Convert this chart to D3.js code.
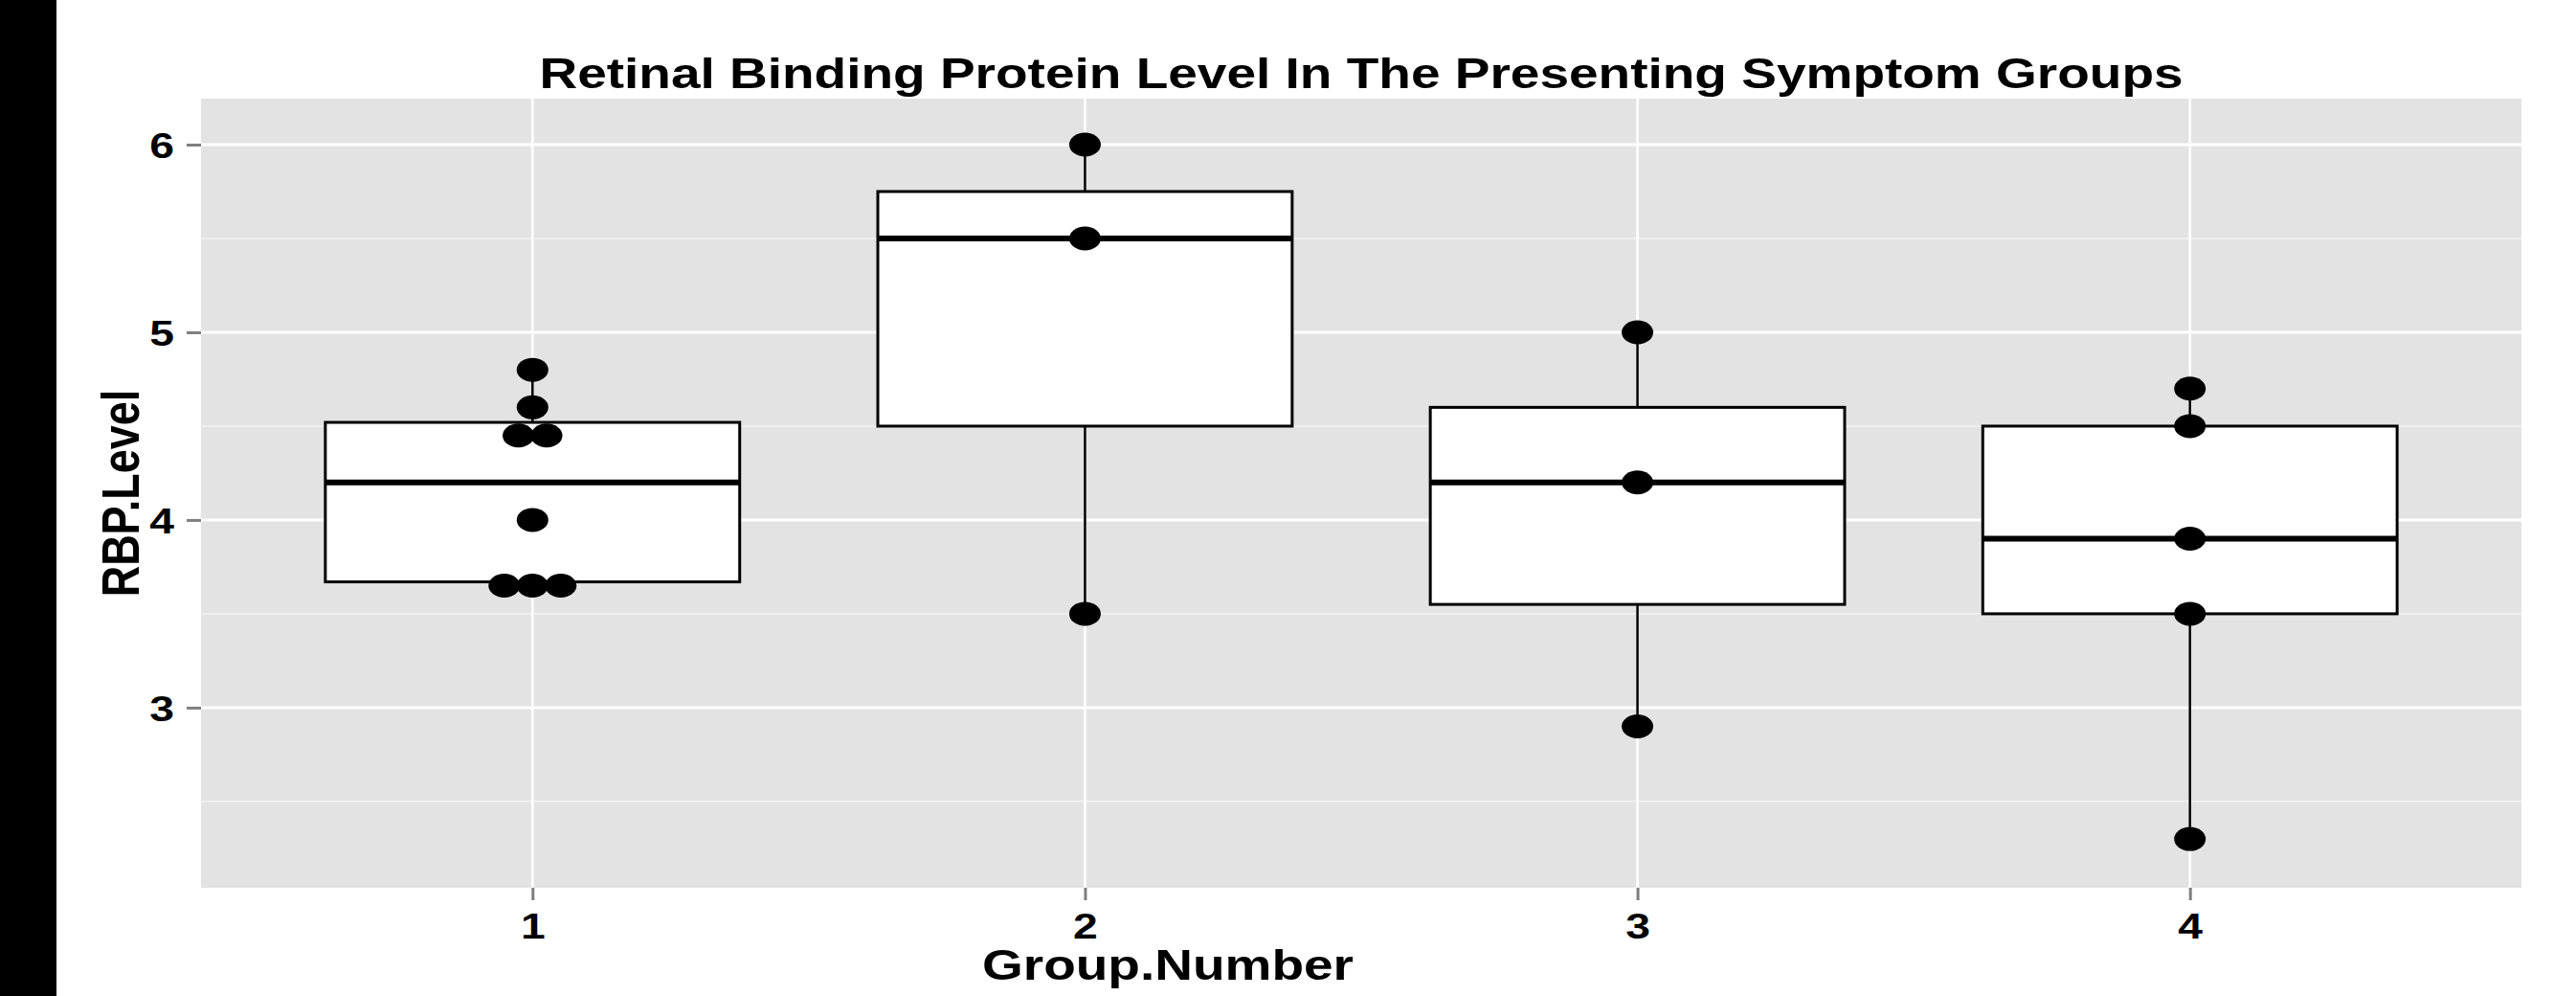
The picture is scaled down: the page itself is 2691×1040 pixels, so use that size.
<!DOCTYPE html>
<html>
<head>
<meta charset="utf-8">
<script src="https://cdn.jsdelivr.net/npm/d3@7"></script>
<style>
body { margin: 0; background: #fff; }
text { font-family: "Liberation Sans", Arial, sans-serif; font-weight: bold; fill: #000; }
</style>
</head>
<body>
<svg width="2691" height="1040"></svg>
<script>
// group labels and RBP values
var groups = ["1", "2", "3", "4"];
var rbpPoints = [
  [4.8, 4.6, 4.45, 4.45, 4.0, 3.65, 3.65, 3.65],
  [6.0, 5.5, 3.5],
  [5.0, 4.2, 2.9],
  [4.7, 4.5, 3.9, 3.5, 2.3]
];
var boxLow = [3.65, 3.5, 2.9, 2.3];
var boxQ1 = [3.67, 4.5, 3.55, 3.5];
var boxMedian = [4.2, 5.5, 4.2, 3.9];
var boxQ3 = [4.52, 5.75, 4.6, 4.5];
var boxHigh = [4.8, 6.0, 5.0, 4.7];
var yTicks = [3, 4, 5, 6];
var yMinor = [2.5, 3.5, 4.5, 5.5];

var svg = d3.select("svg");
var stretch = 1.25; // the source picture is wider than it is tall

// panel edges (note: "top" is a reserved window property)
var pLeft = 210, pRight = 2634, pTop = 103, pBottom = 927;

// black strip at the left edge of the source image
svg.append("rect").attr("x", 0).attr("y", 0).attr("width", 59).attr("height", 1040).attr("fill", "#000");

var x = d3.scalePoint().domain(groups).range([pLeft, pRight]).padding(0.6);
var y = d3.scaleLinear().domain([2.04, 6.245]).range([pBottom, pTop]);
var boxW = x.step() * 0.75;

svg.append("rect")
  .attr("x", pLeft).attr("y", pTop)
  .attr("width", pRight - pLeft).attr("height", pBottom - pTop)
  .attr("fill", "#e3e3e3");

var grid = svg.append("g");
grid.selectAll(".minor").data(yMinor).enter().append("line")
  .attr("x1", pLeft).attr("x2", pRight)
  .attr("y1", d => y(d)).attr("y2", d => y(d))
  .attr("stroke", "#f2f2f2").attr("stroke-width", 1.5);
grid.selectAll(".major").data(yTicks).enter().append("line")
  .attr("x1", pLeft).attr("x2", pRight)
  .attr("y1", d => y(d)).attr("y2", d => y(d))
  .attr("stroke", "#fff").attr("stroke-width", 3);
grid.selectAll(".vert").data(groups).enter().append("line")
  .attr("x1", d => x(d)).attr("x2", d => x(d))
  .attr("y1", pTop).attr("y2", pBottom)
  .attr("stroke", "#fff").attr("stroke-width", 2.5);

// boxes
var boxes = svg.append("g").selectAll("g").data(groups).enter().append("g");
boxes.append("line")
  .attr("x1", d => x(d)).attr("x2", d => x(d))
  .attr("y1", (d, i) => y(boxLow[i])).attr("y2", (d, i) => y(boxHigh[i]))
  .attr("stroke", "#000").attr("stroke-width", 2.5);
boxes.append("rect")
  .attr("x", d => x(d) - boxW / 2)
  .attr("y", (d, i) => y(boxQ3[i]))
  .attr("width", boxW)
  .attr("height", (d, i) => y(boxQ1[i]) - y(boxQ3[i]))
  .attr("fill", "#fff").attr("stroke", "#000").attr("stroke-width", 3);
boxes.append("line")
  .attr("x1", d => x(d) - boxW / 2).attr("x2", d => x(d) + boxW / 2)
  .attr("y1", (d, i) => y(boxMedian[i])).attr("y2", (d, i) => y(boxMedian[i]))
  .attr("stroke", "#000").attr("stroke-width", 6);

// dots, stacked sideways when they share a value
var dots = [];
rbpPoints.forEach(function(vals, gi) {
  var counts = d3.rollup(vals, v => v.length, v => v);
  var seen = new Map();
  vals.forEach(function(v) {
    var k = seen.get(v) || 0;
    seen.set(v, k + 1);
    dots.push({ g: groups[gi], val: v, off: k - (counts.get(v) - 1) / 2 });
  });
});
svg.append("g").selectAll("ellipse").data(dots).enter().append("ellipse")
  .attr("cx", d => x(d.g) + d.off * 29.5)
  .attr("cy", d => y(d.val))
  .attr("rx", 16.5).attr("ry", 12.5)
  .attr("fill", "#000");

// axes
var yAxis = svg.append("g")
  .attr("transform", "translate(" + pLeft + ",0)")
  .call(d3.axisLeft(y).tickValues(yTicks).tickSize(15).tickFormat(d3.format("d")));
var xAxis = svg.append("g")
  .attr("transform", "translate(0," + pBottom + ")")
  .call(d3.axisBottom(x).tickSize(13));

[yAxis, xAxis].forEach(function(ax) {
  ax.select(".domain").remove();
  ax.selectAll(".tick line").attr("stroke", "#7f7f7f").attr("stroke-width", 3);
  ax.selectAll(".tick text").attr("font-size", 37).attr("fill", "#000");
});
yAxis.selectAll(".tick text")
  .attr("x", null)
  .attr("dy", "0.36em")
  .attr("transform", "translate(-28,0) scale(" + stretch + ",1)");
xAxis.selectAll(".tick text")
  .attr("y", null)
  .attr("dy", null)
  .attr("transform", "translate(0,53) scale(" + stretch + ",1)");

// titles
svg.append("text")
  .attr("transform", "translate(1422,92) scale(" + stretch + ",1)")
  .attr("text-anchor", "middle")
  .attr("font-size", 44)
  .text("Retinal Binding Protein Level In The Presenting Symptom Groups");

svg.append("text")
  .attr("transform", "translate(1220,1023) scale(" + stretch + ",1)")
  .attr("text-anchor", "middle")
  .attr("font-size", 44)
  .text("Group.Number");

svg.append("text")
  .attr("transform", "translate(145,515) scale(" + stretch + ",1) rotate(-90)")
  .attr("text-anchor", "middle")
  .attr("font-size", 45)
  .text("RBP.Level");
</script>
</body>
</html>
